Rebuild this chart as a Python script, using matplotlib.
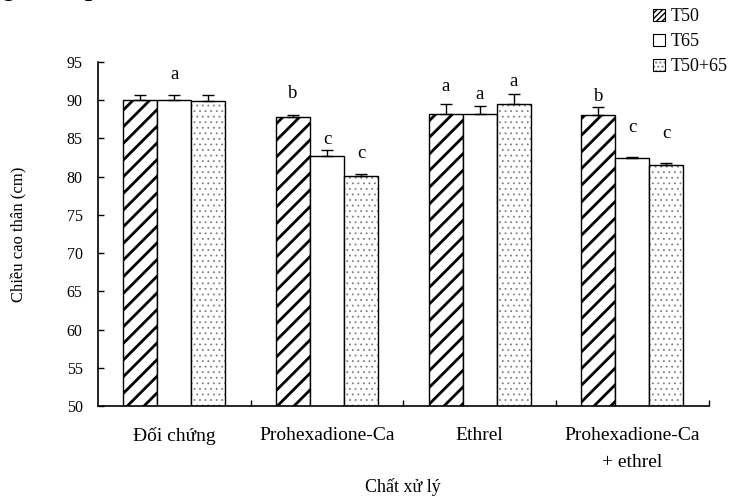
import matplotlib
matplotlib.use("Agg")
import matplotlib.pyplot as plt
from matplotlib.patches import Patch
import numpy as np

plt.rcParams['font.family'] = ['Liberation Serif', 'DejaVu Serif']

# Treatments and series
categories = ["Đối chứng", "Prohexadione-Ca", "Ethrel", "Prohexadione-Ca\n+ ethrel"]
series = ["T50", "T65", "T50+65"]

# Stem height (cm) and standard errors
t50 = [90.0, 87.8, 88.2, 88.1]
t65 = [90.0, 82.7, 88.2, 82.4]
t50_65 = [89.9, 80.1, 89.5, 81.6]
t50_err = [0.75, 0.25, 1.3, 1.05]
t65_err = [0.75, 0.75, 1.1, 0.12]
t50_65_err = [0.8, 0.25, 1.35, 0.22]

# Significance letters and their heights
letters_t50 = ["", "b", "a", "b"]
letters_t65 = ["a", "c", "a", "c"]
letters_t50_65 = ["", "c", "a", "c"]
letter_y_t50 = [None, 90.9, 91.8, 90.5]
letter_y_t65 = [93.4, 84.9, 90.8, 86.5]
letter_y_t50_65 = [None, 83.0, 92.4, 85.6]

fig = plt.figure(figsize=(7.36, 4.96), dpi=100)
ax = fig.add_axes([0.133, 0.181, 0.830, 0.694])

x = np.arange(len(categories))
w = 0.223
offsets = [-w, 0.0, w]
values = [t50, t65, t50_65]
errors = [t50_err, t65_err, t50_65_err]
letters = [letters_t50, letters_t65, letters_t50_65]
letter_y = [letter_y_t50, letter_y_t65, letter_y_t50_65]

DOT_COLOR = "#808080"

for i, (vals, errs, off) in enumerate(zip(values, errors, offsets)):
    xs = x + off
    if i == 0:
        with plt.rc_context({'hatch.linewidth': 2.0}):
            ax.bar(xs, vals, w, color="white", edgecolor="black",
                   hatch="//", linewidth=1.0, zorder=2)
    elif i == 1:
        ax.bar(xs, vals, w, color="white", edgecolor="black", linewidth=1.0, zorder=2)
    else:
        with plt.rc_context({'hatch.linewidth': 0.6}):
            ax.bar(xs, vals, w, color="white", edgecolor=DOT_COLOR,
                   hatch="...", linewidth=0, zorder=2)
        ax.bar(xs, vals, w, fill=False, edgecolor="black", linewidth=1.0, zorder=3)
    ax.errorbar(xs, vals, yerr=[np.zeros(len(vals)), errs], fmt="none",
                ecolor="black", elinewidth=1.0, capsize=4, capthick=1.0, zorder=4)
    for xi, lab, ly in zip(xs, letters[i], letter_y[i]):
        if lab:
            ax.text(xi, ly, lab, ha="center", va="center", fontsize=13.5)

ax.set_ylim(50, 95)
ax.set_yticks(np.arange(50, 96, 5))
ax.set_xlim(-0.5, len(categories) - 0.5)

# boundary ticks between treatments, labels at group centres
ax.set_xticks(np.arange(0.5, len(categories), 1.0))
ax.set_xticklabels([])
ax.set_xticks(x, minor=True)
ax.set_xticklabels(categories, minor=True, fontsize=14, linespacing=1.75)
ax.tick_params(axis="x", which="major", direction="in", length=4, width=1)
ax.tick_params(axis="x", which="minor", length=0, pad=15)
ax.tick_params(axis="y", direction="in", length=4, width=1, pad=11, labelsize=11.5)

for s in ["top", "right"]:
    ax.spines[s].set_visible(False)
for s in ["left", "bottom"]:
    ax.spines[s].set_linewidth(1.2)

ax.set_ylabel("Chiều cao thân (cm)", fontsize=12, labelpad=28)
ax.set_xlabel("Chất xử lý", fontsize=13, labelpad=5)

# legend
handles = [
    Patch(facecolor="white", edgecolor="black", hatch="//////", linewidth=0.8),
    Patch(facecolor="white", edgecolor="black", linewidth=0.8),
    (Patch(facecolor="white", edgecolor=DOT_COLOR, hatch="....", linewidth=0),
     Patch(fill=False, edgecolor="black", linewidth=0.8)),
]
fig.legend(handles, series, loc="upper left", bbox_to_anchor=(0.877, 0.998),
           frameon=False, fontsize=13, handlelength=0.7, handleheight=0.7,
           handletextpad=0.3, labelspacing=0.45, borderaxespad=0)

# heading line running off the top edge
fig.text(0.006, 1.008, "g", fontsize=18, style="italic", weight="bold", va="baseline")
fig.text(0.118, 1.008, "p", fontsize=18, style="italic", weight="bold", va="baseline")

fig.savefig("out.png", dpi=100)
